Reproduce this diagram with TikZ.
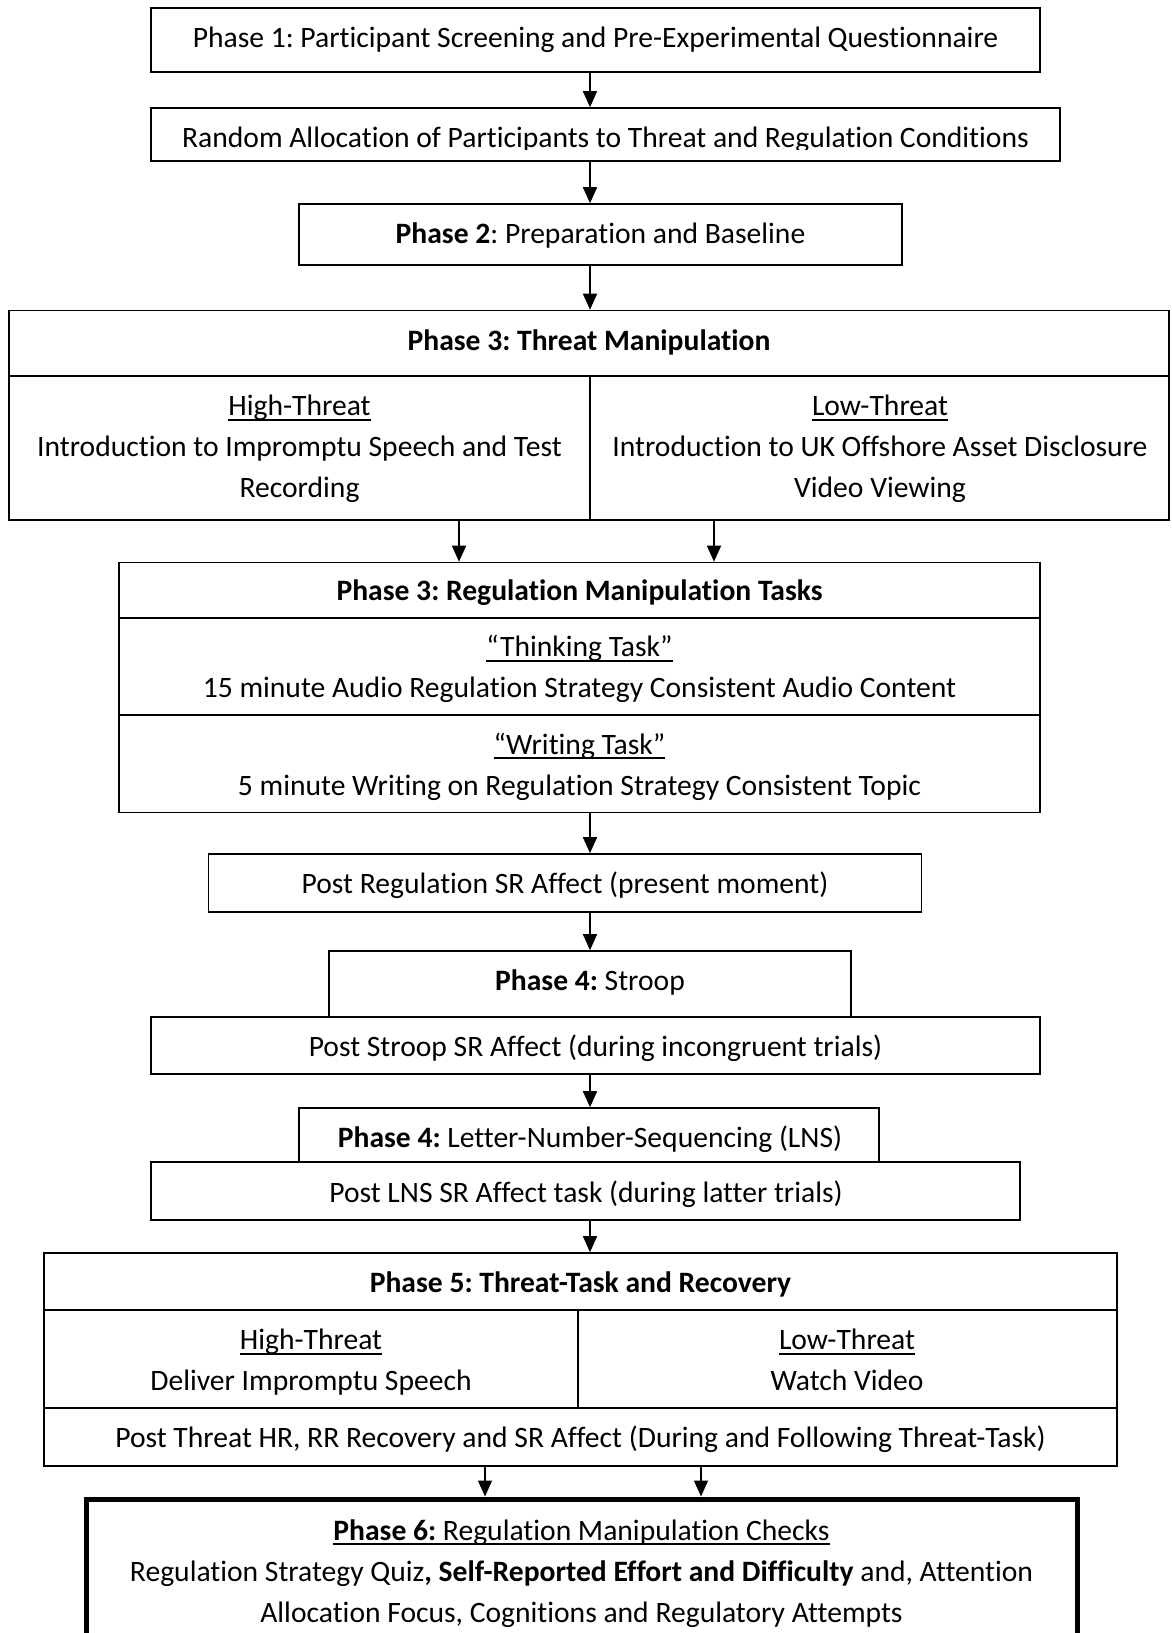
\documentclass[tikz,border=0pt]{standalone}
\usepackage{fontspec}
\setmainfont{Carlito}[Ligatures=NoCommon]
\usetikzlibrary{arrows.meta}
\frenchspacing
\newcommand\myul[1]{\leavevmode\setbox0=\hbox{#1}\rlap{\rule[-5pt]{\wd0}{2pt}}\box0}
\begin{document}
\begin{tikzpicture}[x=1pt,y=-1pt,
  box/.style={draw, line width=1.6pt, rectangle, inner sep=0pt, anchor=center},
  lbl/.style={inner sep=0pt, align=center, font=\fontsize{29.6}{41}\selectfont\frenchspacing},
  arr/.style={line width=1.6pt, -{Triangle[length=16pt,width=14pt]}},
  div/.style={line width=1.6pt}]
\useasboundingbox (0,0) rectangle (1171,1633);
\clip (0,0) rectangle (1171,1633);
\coordinate (ax) at (590,0);
\coordinate (a1) at (459,0);
\coordinate (a2) at (714,0);
\coordinate (a3) at (485,0);
\coordinate (a4) at (701,0);

% Phase 1
\node[box, minimum width=889pt, minimum height=64pt] (b1) at (595.5,40) {};
\node[lbl] (t1) at (595.5,39.5) {Phase 1: Participant Screening and Pre-Experimental Questionnaire};

% Random allocation
\node[box, minimum width=909pt, minimum height=53pt] (b2) at (605.5,134.5) {};
\begin{scope}
\clip (151,108) rectangle (1060,149.5);
\node[lbl, anchor=base] (t2) at (605.5,147.5) {Random Allocation of Participants to Threat and Regulation Conditions};
\end{scope}

% Phase 2
\node[box, minimum width=603pt, minimum height=61pt] (b3) at (600.5,234.5) {};
\node[lbl] (t3) at (600.5,235) {\textbf{Phase 2}: Preparation and Baseline};

% Phase 3 threat
\node[box, minimum width=1160pt, minimum height=209.5pt] (b4) at (589,415.25) {};
\draw[div] (9,376) -- (1169,376);
\draw[div] (590,376) -- (590,520);
\node[lbl] (t4) at (589,342) {\textbf{Phase 3: Threat Manipulation}};
\node[lbl] (t4a) at (299.5,449) {\myul{High-Threat}\\Introduction to Impromptu Speech and Test\\Recording};
\node[lbl] (t4b) at (880,449) {\myul{Low-Threat}\\Introduction to UK Offshore Asset Disclosure\\Video Viewing};

% Phase 3 regulation
\node[box, minimum width=921pt, minimum height=250pt] (b5) at (579.5,687.5) {};
\draw[div] (119,618) -- (1040,618);
\draw[div] (119,715) -- (1040,715);
\node[lbl] (t5) at (579.5,593) {\textbf{Phase 3: Regulation Manipulation Tasks}};
\node[lbl] (t5a) at (579.5,669) {\myul{“Thinking Task”}\\15 minute Audio Regulation Strategy Consistent Audio Content};
\node[lbl] (t5b) at (579.5,766.5) {\myul{“Writing Task”}\\5 minute Writing on Regulation Strategy Consistent Topic};

% Post regulation
\node[box, minimum width=713pt, minimum height=58pt] (b6) at (565,883) {};
\node[lbl] (t6) at (565,885) {Post Regulation SR Affect (present moment)};

% Phase 4 stroop
\node[box, minimum width=522pt, minimum height=66pt] (b7) at (590,984) {};
\node[lbl] (t7) at (590,982) {\textbf{Phase 4:} Stroop};
\node[box, fill=white, minimum width=889pt, minimum height=57pt] (b8) at (595.5,1045.5) {};
\node[lbl] (t8) at (595.5,1048) {Post Stroop SR Affect (during incongruent trials)};

% Phase 4 LNS
\node[box, minimum width=580pt, minimum height=54pt] (b9) at (589,1135) {};
\node[lbl] (t9) at (590,1139) {\textbf{Phase 4:} Letter-Number-Sequencing (LNS)};
\node[box, minimum width=869pt, minimum height=58pt] (b10) at (585.5,1191) {};
\node[lbl] (t10) at (586,1194) {Post LNS SR Affect task (during latter trials)};

% Phase 5
\node[box, minimum width=1073pt, minimum height=213pt] (b11) at (580.5,1359.5) {};
\draw[div] (44,1310) -- (1117,1310);
\draw[div] (44,1408) -- (1117,1408);
\draw[div] (578,1310) -- (578,1408);
\node[lbl] (t11) at (580.5,1284) {\textbf{Phase 5: Threat-Task and Recovery}};
\node[lbl] (t11a) at (311,1362.5) {\myul{High-Threat}\\Deliver Impromptu Speech};
\node[lbl] (t11b) at (847,1362.5) {\myul{Low-Threat}\\Watch Video\vphantom{p}};
\node[lbl] (t11c) at (580.5,1439) {Post Threat HR, RR Recovery and SR Affect (During and Following Threat-Task)};

% Phase 6
\node[box, line width=5pt, minimum width=991pt, minimum height=161pt] (b12) at (581.5,1579.5) {};
\node[lbl] (t12) at (581.5,1573.5) {\myul{\textbf{Phase 6:} Regulation Manipulation Checks}\\Regulation Strategy Quiz\textbf{, Self-Reported Effort and Difficulty} and, Attention\\Allocation Focus, Cognitions and Regulatory Attempts};

% arrows
\draw[arr] (b1.south -| ax) -- (b2.north -| ax);
\draw[arr] (b2.south -| ax) -- (b3.north -| ax);
\draw[arr] (b3.south -| ax) -- (b4.north -| ax);
\draw[arr] (b4.south -| a1) -- (b5.north -| a1);
\draw[arr] (b4.south -| a2) -- (b5.north -| a2);
\draw[arr] (b5.south -| ax) -- (b6.north -| ax);
\draw[arr] (b6.south -| ax) -- (b7.north -| ax);
\draw[arr] (b8.south -| ax) -- (b9.north -| ax);
\draw[arr] (b10.south -| ax) -- (b11.north -| ax);
\draw[arr] (b11.south -| a3) -- (b12.north -| a3);
\draw[arr] (b11.south -| a4) -- (b12.north -| a4);
\end{tikzpicture}
\end{document}
